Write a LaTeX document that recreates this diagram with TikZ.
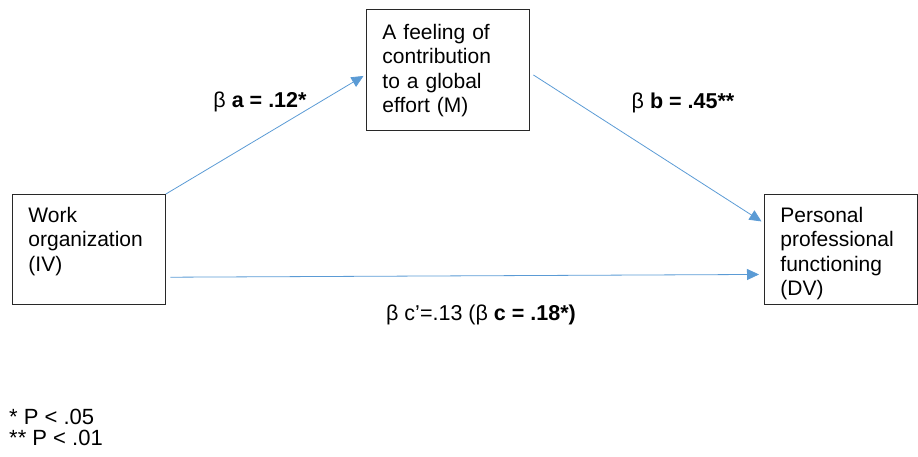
\documentclass[tikz,border=0pt]{standalone}
\usepackage{fontspec}
\setmainfont{Liberation Sans}
\usepackage{tikz}
\usetikzlibrary{arrows.meta,positioning,calc}
\definecolor{ArrowBlue}{RGB}{91,155,213}
\definecolor{BoxLine}{RGB}{40,40,40}

\begin{document}
\begin{tikzpicture}[
    x=1pt, y=-1pt,
    >={Triangle[length=12pt,width=11pt]},
    box/.style={rectangle, draw=BoxLine, line width=0.9pt, anchor=north west,
                text width=#1, align=left, inner xsep=16pt, inner ysep=0pt,
                text height=28pt, font=\fontsize{21}{24.5}\selectfont},
    box/.default=121pt,
    arr/.style={->, line width=0.8pt, color=ArrowBlue},
    coef/.style={font=\fontsize{21.5}{24}\selectfont, inner sep=0pt},
]
\useasboundingbox (0,0) rectangle (918,456);

% -- variables --
\node[box, text depth=81.5pt] (iv) at (12,194) {Work\\organization\\(IV)};
\node[box=131pt, text height=30pt, text depth=91pt] (med) at (366,9) {A feeling of\\contribution\\to a global\\effort (M)};
\node[box, text depth=82pt] (dv) at (764,194) {Personal\\professional\\functioning\\(DV)};

% -- paths --
\draw[arr] (iv.north east) -- ([xshift=-2.5pt,yshift=-6pt]med.west);
\draw[arr] ([xshift=3.5pt,yshift=-5pt]med.east) -- ([xshift=-2.5pt,yshift=28pt]dv.west);
\draw[arr] ([xshift=4.5pt,yshift=-28pt]iv.east) -- ([xshift=-5pt,yshift=-25pt]dv.west);

% -- coefficients --
\node[coef] (ca) at (260,102) {β \textbf{a = .12*}};
\node[coef] (cb) at (683,103) {β \textbf{b = .45**}};
\node[coef] (cc) at (481,315) {β c'=.13 (β \textbf{c = .18*)}};

% -- significance note --
\node[coef, anchor=north west, align=left, font=\fontsize{22}{20.5}\selectfont]
    (note) at (9,409) {* P < .05\\** P < .01};

\end{tikzpicture}
\end{document}
